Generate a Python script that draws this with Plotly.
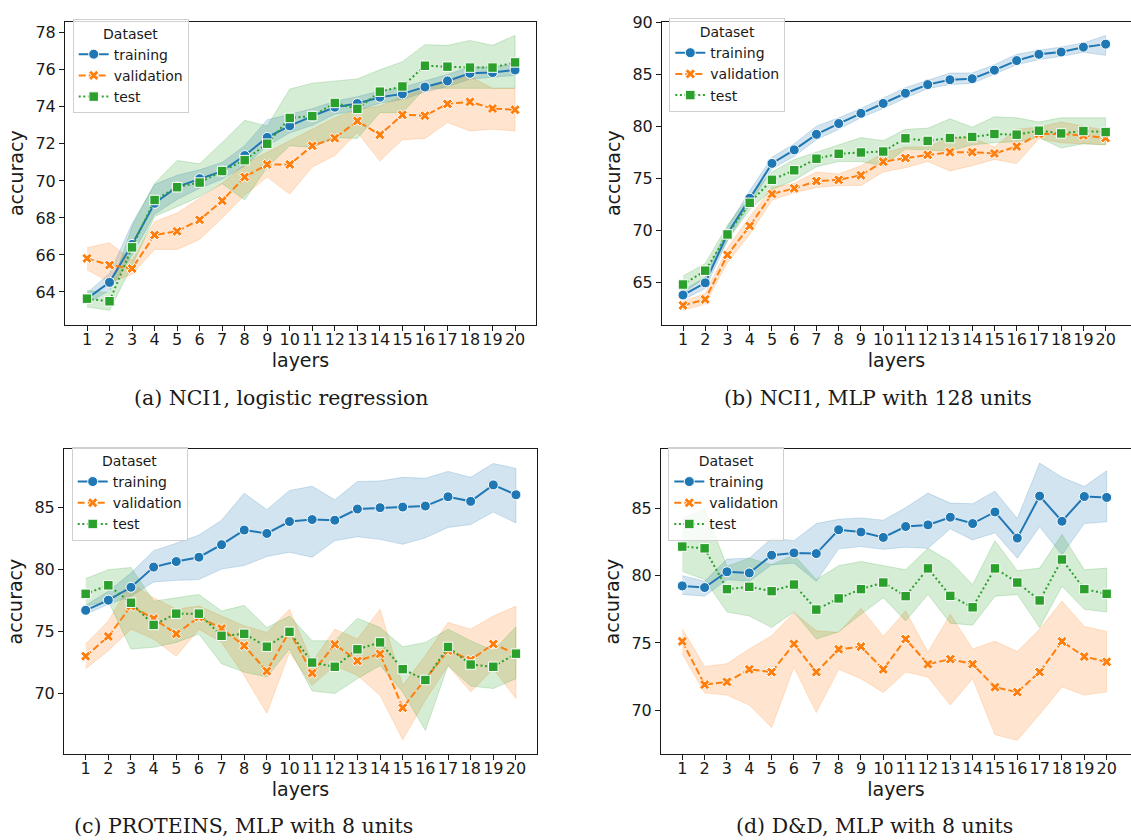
import plotly.graph_objects as go

W, H = 1131, 840

layers = list(range(1, 21))
layer_ticks = [str(i) for i in layers]
series_names = ["training", "validation", "test"]

# ---------------- (a) NCI1, logistic regression ----------------
a_train = [63.64, 64.52, 66.57, 68.79, 69.68, 70.12, 70.53, 71.37, 72.35, 72.97,
           73.50, 73.98, 74.18, 74.52, 74.70, 75.07, 75.40, 75.81, 75.85, 75.99]
a_train_lo = [63.35, 64.10, 66.00, 68.20, 69.00, 69.60, 70.10, 70.80, 71.90, 72.60,
              73.00, 73.60, 73.80, 74.20, 74.40, 74.80, 75.10, 75.50, 75.60, 75.70]
a_train_hi = [63.95, 65.00, 67.70, 69.80, 70.30, 70.60, 71.00, 71.90, 73.30, 73.60,
              73.90, 74.30, 74.55, 74.85, 75.05, 75.40, 75.75, 76.15, 76.15, 76.30]
a_val = [65.82, 65.45, 65.27, 67.08, 67.28, 67.90, 68.93, 70.21, 70.89, 70.89,
         71.90, 72.31, 73.24, 72.49, 73.57, 73.52, 74.16, 74.27, 73.91, 73.84]
a_val_lo = [65.20, 64.52, 64.95, 66.30, 66.30, 66.84, 68.00, 69.24, 70.21, 69.29,
            70.75, 71.37, 72.61, 71.07, 72.22, 72.29, 73.15, 72.70, 72.79, 72.70]
a_val_hi = [66.39, 66.66, 65.70, 67.80, 68.26, 69.06, 69.86, 70.92, 71.55, 72.17,
            72.79, 73.41, 73.86, 74.04, 74.57, 74.93, 75.46, 75.64, 75.00, 75.00]
a_test = [63.64, 63.50, 66.41, 68.97, 69.66, 69.91, 70.53, 71.12, 72.01, 73.40,
          73.50, 74.21, 73.89, 74.82, 75.10, 76.22, 76.17, 76.12, 76.12, 76.40]
a_test_lo = [63.19, 63.01, 65.41, 68.08, 68.61, 69.15, 69.86, 68.97, 70.75, 71.90,
             71.81, 72.35, 72.29, 73.68, 73.68, 75.00, 75.00, 75.00, 75.00, 75.00]
a_test_hi = [64.08, 63.96, 67.55, 69.86, 71.10, 70.92, 72.08, 73.27, 72.97, 74.96,
             75.28, 75.40, 75.51, 76.00, 76.44, 77.36, 77.32, 77.59, 77.32, 77.86]
a_yticks = [64, 66, 68, 70, 72, 74, 76, 78]

# ---------------- (b) NCI1, MLP with 128 units ----------------
b_train = [63.77, 64.94, 69.65, 73.07, 76.42, 77.72, 79.21, 80.25, 81.23, 82.18,
           83.16, 83.99, 84.46, 84.56, 85.38, 86.30, 86.90, 87.12, 87.59, 87.88]
b_train_lo = [63.30, 64.40, 69.00, 72.50, 75.90, 77.10, 78.70, 79.70, 80.80, 81.70,
              82.70, 83.60, 84.00, 84.10, 85.00, 85.90, 86.40, 86.70, 87.10, 86.80]
b_train_hi = [64.20, 65.50, 70.30, 73.80, 77.00, 78.30, 80.00, 80.80, 81.70, 82.70,
              83.70, 84.40, 85.10, 85.10, 85.90, 86.90, 87.30, 87.60, 88.00, 88.70]
b_val = [62.78, 63.35, 67.63, 70.41, 73.48, 74.02, 74.72, 74.84, 75.28, 76.58,
         76.93, 77.25, 77.50, 77.50, 77.37, 78.04, 79.24, 79.24, 79.11, 78.86]
b_val_lo = [62.30, 62.90, 66.90, 69.60, 72.90, 73.60, 74.10, 74.30, 74.30, 75.60,
            76.00, 76.60, 75.70, 76.20, 76.80, 76.40, 78.80, 78.40, 78.30, 78.20]
b_val_hi = [63.20, 63.90, 68.30, 71.30, 74.10, 74.50, 75.60, 75.40, 76.20, 77.40,
            78.00, 78.00, 78.90, 78.90, 78.00, 79.70, 79.90, 80.40, 80.00, 79.60]
b_test = [64.78, 66.11, 69.59, 72.63, 74.84, 75.76, 76.87, 77.34, 77.47, 77.56,
          78.83, 78.58, 78.86, 78.96, 79.24, 79.18, 79.56, 79.30, 79.53, 79.43]
b_test_lo = [64.00, 65.40, 69.00, 72.00, 73.90, 74.80, 76.10, 76.60, 76.60, 76.20,
             77.80, 77.70, 77.60, 78.20, 78.40, 78.50, 78.90, 77.90, 78.30, 78.20]
b_test_hi = [65.60, 66.80, 70.50, 73.30, 75.60, 76.80, 77.50, 78.20, 78.90, 78.60,
             79.70, 79.80, 80.70, 79.90, 80.90, 80.80, 80.40, 80.80, 80.80, 80.80]
b_yticks = [65, 70, 75, 80, 85, 90]

# ---------------- (c) PROTEINS, MLP with 8 units ----------------
c_train = [76.71, 77.53, 78.57, 80.20, 80.65, 81.00, 82.01, 83.19, 82.92, 83.88,
           84.04, 83.99, 84.89, 85.00, 85.05, 85.13, 85.88, 85.51, 86.84, 86.04]
c_train_lo = [76.39, 77.19, 77.85, 79.00, 79.13, 79.19, 80.04, 80.33, 81.05, 81.40,
              81.00, 82.33, 82.65, 82.44, 82.04, 82.57, 83.40, 83.64, 84.65, 83.77]
c_train_hi = [77.10, 78.25, 79.72, 81.53, 82.12, 82.79, 83.99, 86.17, 84.84, 86.39,
              86.73, 85.64, 87.11, 87.16, 87.45, 87.37, 87.93, 87.45, 88.57, 88.17]
c_val = [73.00, 74.60, 77.05, 76.04, 74.81, 76.17, 75.24, 73.85, 71.80, 75.00,
         71.64, 73.96, 72.63, 73.19, 68.84, 71.11, 73.45, 72.71, 73.99, 73.19]
c_val_lo = [71.99, 73.45, 75.19, 74.39, 73.00, 75.19, 74.12, 71.45, 68.39, 73.32,
            70.65, 72.25, 71.45, 69.85, 66.25, 69.45, 72.25, 70.12, 71.99, 69.59]
c_val_hi = [73.99, 75.85, 78.92, 77.72, 76.79, 77.05, 76.25, 75.45, 74.92, 76.79,
            72.52, 75.19, 74.39, 76.79, 70.65, 73.05, 75.72, 75.19, 76.25, 77.05]
c_test = [78.04, 78.73, 77.32, 75.53, 76.44, 76.44, 74.65, 74.81, 73.77, 74.97,
          72.49, 72.15, 73.56, 74.12, 71.96, 71.08, 73.75, 72.33, 72.15, 73.21]
c_test_lo = [77.05, 77.45, 73.59, 73.72, 74.12, 74.79, 72.39, 71.72, 71.32, 73.59,
             70.20, 69.99, 71.19, 72.25, 70.12, 67.00, 72.25, 70.59, 70.39, 71.19]
c_test_hi = [79.27, 79.99, 80.17, 77.45, 77.72, 77.99, 76.65, 77.11, 75.32, 76.25,
             74.25, 74.25, 76.07, 75.32, 73.77, 74.12, 75.19, 74.25, 73.45, 75.37]
c_yticks = [70, 75, 80, 85]

# ---------------- (d) D&D, MLP with 8 units ----------------
d_train = [79.24, 79.12, 80.29, 80.20, 81.52, 81.69, 81.64, 83.41, 83.24, 82.84,
           83.65, 83.77, 84.34, 83.87, 84.73, 82.79, 85.91, 84.04, 85.88, 85.81]
d_train_lo = [78.60, 78.48, 79.71, 79.58, 80.81, 80.93, 79.58, 81.99, 82.16, 81.96,
              82.11, 82.03, 83.48, 82.65, 83.19, 81.30, 83.63, 81.54, 83.87, 84.00]
d_train_hi = [80.00, 79.58, 81.23, 81.30, 82.77, 82.60, 83.87, 84.19, 84.29, 84.12,
              85.05, 86.13, 85.39, 85.34, 86.27, 84.24, 88.36, 87.30, 86.62, 87.79]
d_val = [75.12, 71.91, 72.11, 73.04, 72.84, 74.93, 72.84, 74.53, 74.73, 73.04,
         75.29, 73.43, 73.80, 73.43, 71.72, 71.35, 72.84, 75.12, 73.99, 73.60]
d_val_lo = [74.19, 71.30, 71.13, 70.39, 68.73, 73.21, 69.83, 73.04, 72.35, 71.32,
            72.84, 72.48, 70.39, 72.35, 68.19, 67.77, 69.71, 71.74, 71.13, 71.37]
d_val_hi = [76.03, 73.26, 73.46, 74.56, 75.54, 77.25, 75.91, 75.78, 77.57, 75.49,
            77.38, 74.31, 77.13, 74.56, 75.12, 74.36, 76.03, 78.11, 76.23, 75.86]
d_test = [82.16, 82.03, 79.00, 79.17, 78.85, 79.34, 77.48, 78.31, 79.00, 79.49,
          78.48, 80.54, 78.50, 77.65, 80.54, 79.49, 78.16, 81.20, 79.00, 78.65]
d_test_lo = [80.32, 79.71, 77.30, 77.01, 76.15, 77.30, 75.29, 75.83, 77.13, 78.36,
             76.64, 78.60, 76.47, 76.32, 78.48, 78.60, 76.15, 79.22, 77.50, 77.30]
d_test_hi = [84.24, 84.98, 80.69, 81.30, 80.81, 81.54, 79.71, 80.74, 81.05, 80.74,
             80.44, 82.03, 81.05, 79.34, 82.60, 80.37, 80.56, 83.06, 80.44, 80.56]
d_yticks = [70, 75, 80, 85]

captions = ["(a) NCI1, logistic regression", "(b) NCI1, MLP with 128 units",
            "(c) PROTEINS, MLP with 8 units", "(d) D&amp;D, MLP with 8 units"]

# ---------------- styling ----------------
colors = ["#1f77b4", "#ff7f0e", "#2ca02c"]
bands_rgba = ["rgba(31,119,180,0.2)", "rgba(255,127,14,0.2)", "rgba(44,160,44,0.2)"]
edge_rgba = ["rgba(31,119,180,0.25)", "rgba(255,127,14,0.25)", "rgba(44,160,44,0.25)"]
dashes = ["solid", "7px,3px", "2px,2.6px"]
symbols = ["circle", "x", "square"]
msizes = [10, 9, 9.5]

SANS = "DejaVu Sans"
SERIF = "DejaVu Serif"
TXT = "#1a1a1a"

panels = [
    dict(data=[(a_train, a_train_lo, a_train_hi), (a_val, a_val_lo, a_val_hi), (a_test, a_test_lo, a_test_hi)],
         yticks=a_yticks, px=(65, 536), py=(13, 319), xr=(0.0235, 20.93), yr=(62.24, 78.59),
         leg=(72.7, 10.5), cap=(281, 393), right_spine=True),
    dict(data=[(b_train, b_train_lo, b_train_hi), (b_val, b_val_lo, b_val_hi), (b_test, b_test_lo, b_test_hi)],
         yticks=b_yticks, px=(662, 1131), py=(13, 319), xr=(0.056, 21.14), yr=(60.93, 90.02),
         leg=(669.3, 9), cap=(878, 393), right_spine=False),
    dict(data=[(c_train, c_train_lo, c_train_hi), (c_val, c_val_lo, c_val_hi), (c_test, c_test_lo, c_test_hi)],
         yticks=c_yticks, px=(64, 537), py=(445, 753), xr=(0.042, 20.93), yr=(65.11, 89.72),
         leg=(71.7, 442.5), cap=(243, 826), right_spine=True),
    dict(data=[(d_train, d_train_lo, d_train_hi), (d_val, d_val_lo, d_val_hi), (d_test, d_test_lo, d_test_hi)],
         yticks=d_yticks, px=(661, 1131), py=(445, 753), xr=(0.047, 21.09), yr=(66.76, 89.39),
         leg=(668.3, 442.5), cap=(874, 826), right_spine=False),
]

fig = go.Figure()
layout = dict(
    width=W, height=H, margin=dict(l=0, r=0, t=0, b=0),
    paper_bgcolor="white", plot_bgcolor="white",
    font=dict(family=SANS, color=TXT), showlegend=True, annotations=[],
)

for i, p in enumerate(panels):
    k = "" if i == 0 else str(i + 1)
    xa, ya = "x" + k, "y" + k
    leg = "legend" + k
    # bands first
    for s, (mean, lo, hi) in enumerate(p["data"]):
        fig.add_trace(go.Scatter(
            x=layers + layers[::-1], y=hi + lo[::-1], xaxis=xa, yaxis=ya,
            fill="toself", fillcolor=bands_rgba[s], mode="lines",
            line=dict(color=edge_rgba[s], width=0.8), hoverinfo="skip",
            showlegend=False, legend=leg))
    for s, (mean, lo, hi) in enumerate(p["data"]):
        fig.add_trace(go.Scatter(
            x=layers, y=mean, xaxis=xa, yaxis=ya, name=series_names[s],
            mode="lines+markers", legend=leg, legendgroup=series_names[s] + k,
            line=dict(color=colors[s], width=2, dash=dashes[s]),
            marker=dict(symbol=symbols[s], size=msizes[s], color=colors[s],
                        line=dict(color="white", width=1))))
    x0, x1 = p["px"]
    y0, y1 = p["py"]
    layout["xaxis" + k] = dict(
        domain=[x0 / W, min(x1 / W, 1.0)], range=list(p["xr"]), anchor=ya,
        tickmode="array", tickvals=layers, ticktext=layer_ticks, tickangle=0,
        ticks="outside", ticklen=5, tickwidth=1, tickcolor=TXT,
        tickfont=dict(family=SANS, size=16, color=TXT), ticklabelstandoff=-5,
        showline=True, linecolor=TXT, linewidth=1.1, mirror=True,
        showgrid=False, zeroline=False,
        title=dict(text="layers", font=dict(family=SANS, size=19, color=TXT), standoff=0))
    layout["yaxis" + k] = dict(
        domain=[1 - y1 / H, 1 - y0 / H], range=list(p["yr"]), anchor=xa,
        tickmode="array", tickvals=p["yticks"], ticktext=[str(v) for v in p["yticks"]],
        ticks="outside", ticklen=5, tickwidth=1, tickcolor=TXT,
        tickfont=dict(family=SANS, size=16, color=TXT),
        showline=True, linecolor=TXT, linewidth=1.1, mirror=p["right_spine"],
        showgrid=False, zeroline=False,
        title=dict(text="accuracy", font=dict(family=SANS, size=19, color=TXT), standoff=6))
    lx, ly = p["leg"]
    layout[leg] = dict(
        x=lx / W, y=1 - ly / H, xanchor="left", yanchor="top", xref="paper", yref="paper",
        bgcolor="rgba(255,255,255,0.8)", bordercolor="#d0d0d0", borderwidth=1,
        font=dict(family=SANS, size=14, color=TXT), tracegroupgap=0,
        title=dict(text="Dataset", side="top center", font=dict(family=SANS, size=14, color=TXT)),
        itemwidth=30)
    cx, cy = p["cap"]
    layout["annotations"].append(dict(
        text=captions[i], x=cx / W, y=1 - cy / H, xref="paper", yref="paper",
        xanchor="center", yanchor="middle", showarrow=False,
        font=dict(family=SERIF, size=20.5, color=TXT)))

fig.update_layout(**layout)
fig.write_html("out.html")
